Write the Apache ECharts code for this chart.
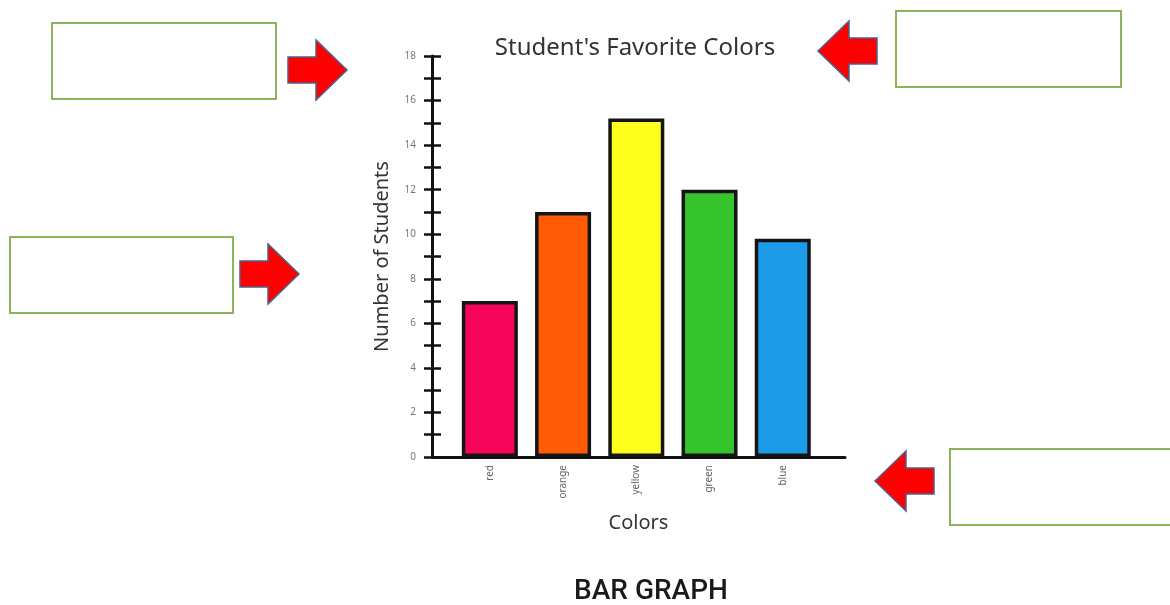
<!DOCTYPE html>
<html>
<head>
<meta charset="utf-8">
<script src="https://cdn.jsdelivr.net/npm/echarts@6/dist/echarts.min.js"></script>
<style>
html,body{margin:0;padding:0;background:#fff;}
#chart{width:1170px;height:605px;}
</style>
</head>
<body>
<div id="chart"></div>
<script>
// ---- data ----
const categories = ['red', 'orange', 'yellow', 'green', 'blue'];
const studentCounts = [7, 11, 15.2, 12, 9.8];
const barColors = ['#f7055a', '#ff5a05', '#ffff1e', '#35c42b', '#1c9ce8'];
const yTickLabels = [0, 2, 4, 6, 8, 10, 12, 14, 16, 18];
const titleText = "Student's Favorite Colors";
const yAxisTitle = 'Number of Students';
const xAxisTitle = 'Colors';
const footerText = 'BAR GRAPH';

const chart = echarts.init(document.getElementById('chart'), null, {renderer: 'canvas'});

const FONT = '"Noto Sans", sans-serif';

function arrowPts(tipX, tipY, dir) {
  // dir 1 = pointing right, -1 = pointing left
  const L = 59, headL = 31, hh = 30, bh = 13;
  const base = tipX - dir * L, neck = tipX - dir * headL;
  return [[base, tipY - bh], [neck, tipY - bh], [neck, tipY - hh], [tipX, tipY],
          [neck, tipY + hh], [neck, tipY + bh], [base, tipY + bh]];
}
function arrow(tipX, tipY, dir) {
  return {type: 'polygon', shape: {points: arrowPts(tipX, tipY, dir)},
          style: {fill: '#ff0000', stroke: '#4f5f8c', lineWidth: 1.5}, z: 10};
}
function box(x, y, w, h) {
  return {type: 'rect', shape: {x: x, y: y, width: w, height: h},
          style: {fill: '#fff', stroke: '#8bb45a', lineWidth: 2}, z: 10};
}

const option = {
  backgroundColor: '#ffffff',
  animation: false,
  title: {
    show: false
  },
  grid: {left: 432, right: 325, top: 56, bottom: 148, containLabel: false},
  xAxis: {
    type: 'value', min: -0.79, max: 4.85,
    name: xAxisTitle, nameLocation: 'middle', nameGap: 56,
    nameTextStyle: {fontFamily: FONT, fontSize: 20, color: '#333'},
    axisLine: {show: true, onZero: false, lineStyle: {color: '#111', width: 3}},
    axisTick: {show: false},
    splitLine: {show: false},
    axisLabel: {
      customValues: [0, 1, 2, 3, 4],
      formatter: v => categories[Math.round(v)] || '',
      rotate: 90, fontFamily: FONT, fontSize: 10, color: '#666', margin: 8
    }
  },
  yAxis: [
    {
      type: 'value', min: 0, max: 18, interval: 1, position: 'left',
      name: yAxisTitle, nameLocation: 'middle', nameGap: 40, nameRotate: 90,
      nameTextStyle: {fontFamily: FONT, fontSize: 20, color: '#333'},
      axisLine: {show: false, onZero: false},
      axisTick: {show: true, inside: true, length: 9, lineStyle: {color: '#111', width: 2.5}},
      splitLine: {show: false},
      axisLabel: {
        margin: 16, fontFamily: FONT, fontSize: 10, color: '#777',
        formatter: v => (yTickLabels.indexOf(v) >= 0 ? String(v) : '')
      }
    },
    {
      type: 'value', min: 0, max: 18, interval: 1, position: 'left', offset: 0,
      axisLine: {show: false, onZero: false},
      axisTick: {show: true, inside: false, length: 8, lineStyle: {color: '#111', width: 2.5}},
      axisLabel: {show: false},
      splitLine: {show: false}
    },
    {
      type: 'value', min: 0, max: 18.45, position: 'left', offset: 0,
      axisLine: {show: true, onZero: false, lineStyle: {color: '#111', width: 3}},
      axisTick: {show: false},
      axisLabel: {show: false},
      splitLine: {show: false}
    }
  ],
  series: [{
    type: 'bar',
    yAxisIndex: 0,
    barWidth: 56,
    data: studentCounts.map((v, i) => ({
      value: [i, v],
      itemStyle: {color: barColors[i], borderColor: '#141414', borderWidth: 3.5}
    }))
  }],
  graphic: [
    box(52, 23, 224, 76),
    box(896, 11, 225, 76),
    box(10, 237, 223, 76),
    box(950, 449, 230, 76),
    arrow(347, 70, 1),
    arrow(818, 51, -1),
    arrow(299, 274, 1),
    arrow(875, 481, -1),
    {
      type: 'text', x: 635, y: 36,
      style: {text: titleText, fontFamily: FONT, fontSize: 24, fill: '#333', textAlign: 'center'}
    },
    {
      type: 'text', x: 651, y: 578,
      style: {text: footerText, fontFamily: 'Roboto, sans-serif', fontSize: 28,
              fontWeight: 500, fill: '#1a1a1a', textAlign: 'center'}
    }
  ]
};
chart.setOption(option);
</script>
</body>
</html>
